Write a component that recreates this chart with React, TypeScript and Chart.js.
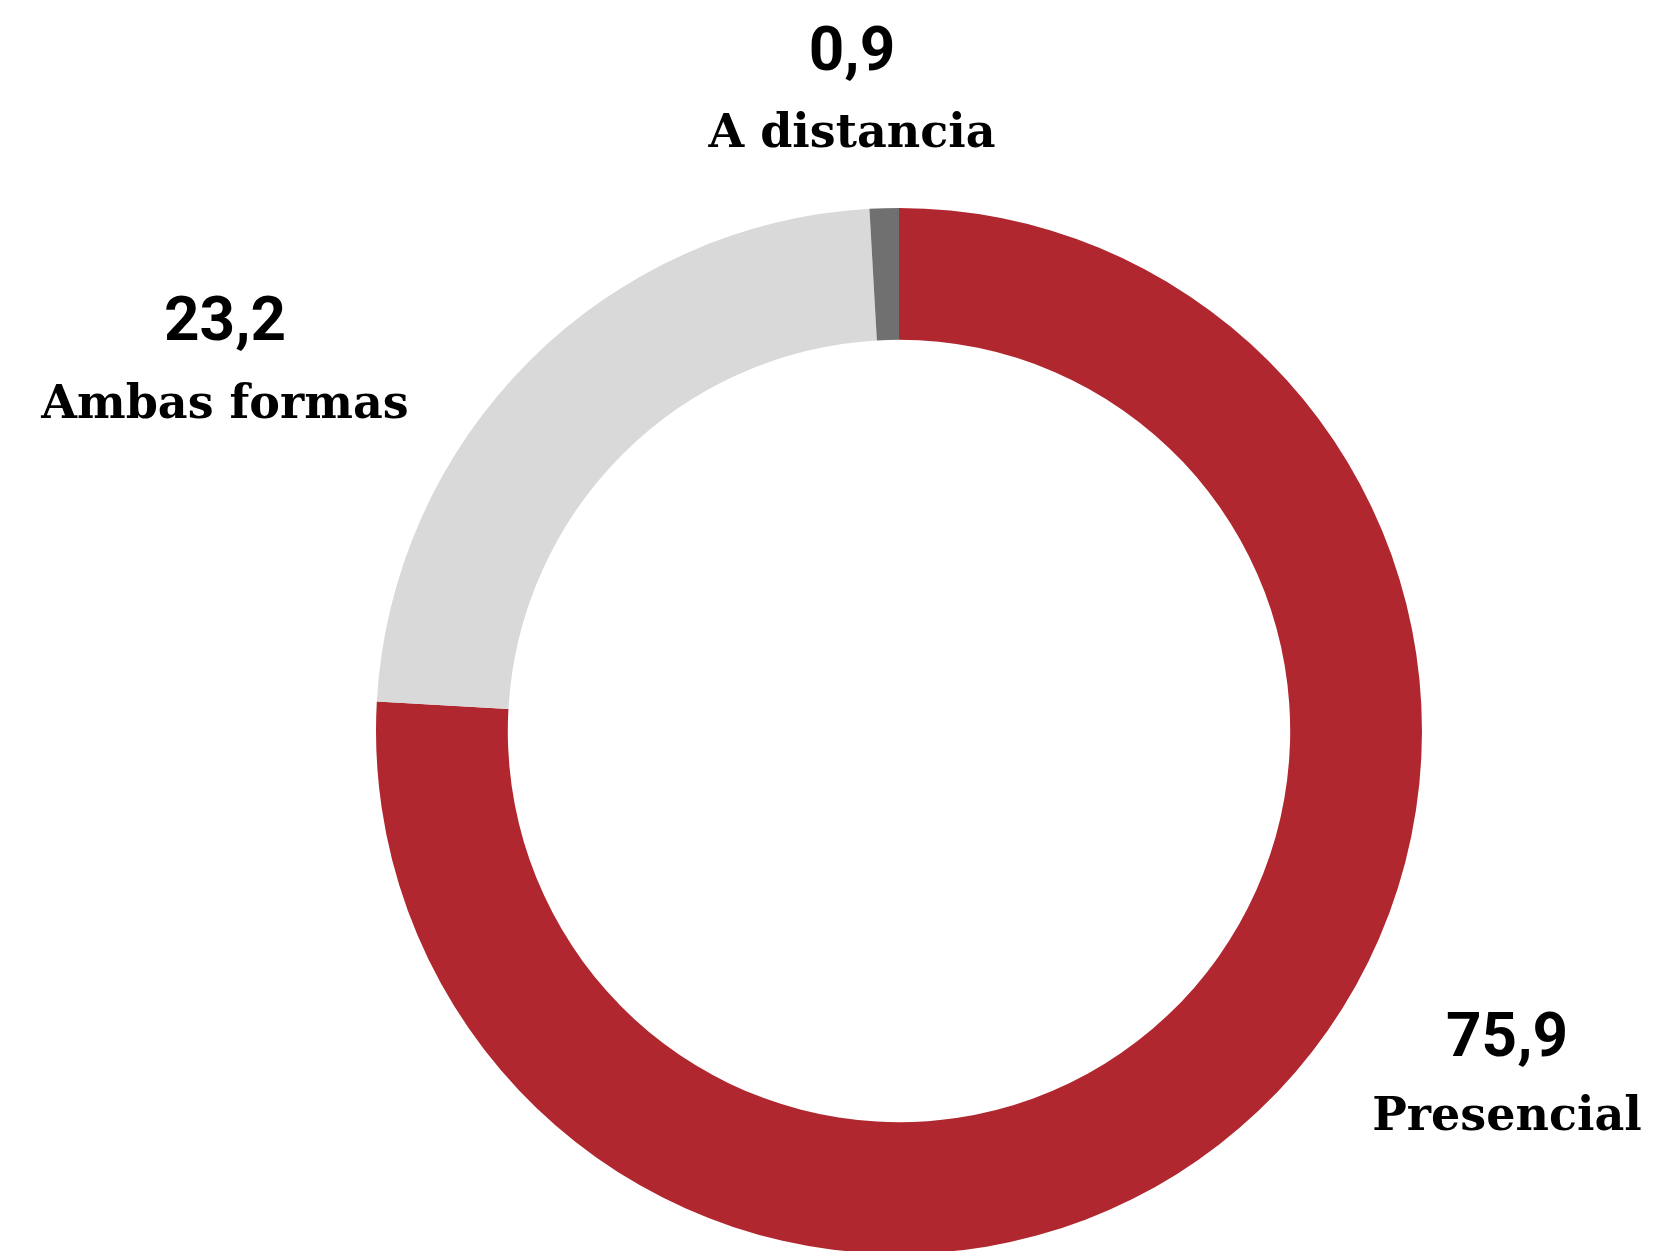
import React, { useEffect, useRef } from "react";
import { Chart, registerables } from "chart.js";

Chart.register(...registerables);

const categories = ["Presencial", "Ambas formas", "A distancia"];
const values = [75.9, 23.2, 0.9];
const valueLabels = ["75,9", "23,2", "0,9"];
const colors = ["#B1272F", "#D9D9D9", "#707070"];

// label anchor offsets from the doughnut centre (x, number baseline, name baseline)
const labelOffsets = [
  [608, 325, 399],
  [-674, -391, -313],
  [-47, -661, -584],
];

const labelPlugin = {
  id: "sliceLabels",
  afterDraw(chart: any) {
    const meta = chart.getDatasetMeta(0);
    const arc = meta.data[0];
    if (!arc) return;
    const cx = arc.x;
    const cy = arc.y;
    const ctx = chart.ctx;
    ctx.save();
    ctx.fillStyle = "#000000";
    ctx.textAlign = "center";
    ctx.textBaseline = "alphabetic";
    categories.forEach((name, i) => {
      const [dx, dyNum, dyName] = labelOffsets[i];
      ctx.font = "bold 62px Roboto";
      ctx.fillText(valueLabels[i], cx + dx, cy + dyNum);
      ctx.font = "bold 46px 'DejaVu Serif'";
      ctx.fillText(name, cx + dx, cy + dyName);
    });
    ctx.restore();
  },
};

export default function App() {
  const ref = useRef<HTMLCanvasElement>(null);
  useEffect(() => {
    if (!ref.current) return;
    const chart = new Chart(ref.current, {
      type: "doughnut",
      data: {
        labels: categories,
        datasets: [
          {
            data: values,
            backgroundColor: colors,
            borderWidth: 0,
            hoverOffset: 0,
            offset: 0,
          },
        ],
      },
      options: {
        animation: false,
        responsive: false,
        maintainAspectRatio: false,
        cutout: "74.8%",
        layout: { padding: { left: 376, right: 248, top: 208, bottom: 46 } },
        plugins: {
          legend: { display: false },
          tooltip: { enabled: false },
        },
      },
      plugins: [labelPlugin],
    });
    return () => chart.destroy();
  }, []);
  return (
    <div style={{ position: "absolute", left: 0, top: 0, width: 1670, height: 1251, overflow: "hidden", background: "#fff" }}>
      <canvas ref={ref} width={1670} height={1300} style={{ display: "block" }} />
    </div>
  );
}
